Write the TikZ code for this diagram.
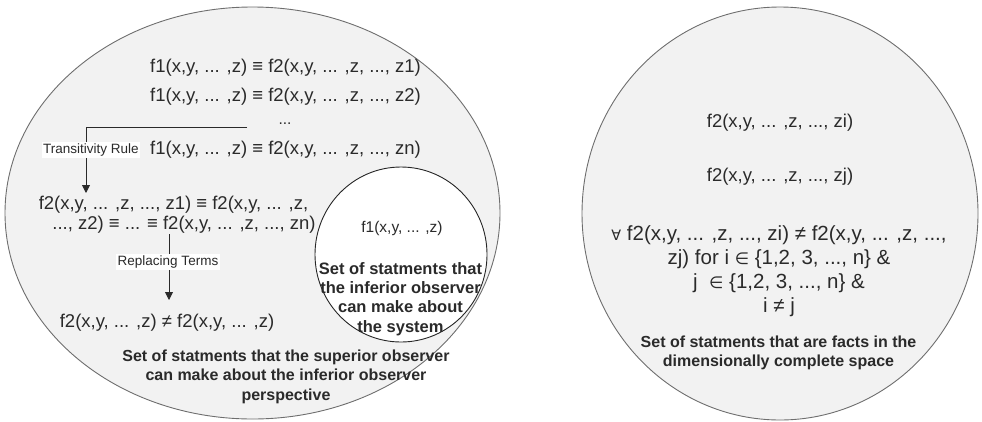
\documentclass[tikz,border=0pt]{standalone}
\usepackage{fontspec}
\setmainfont{Liberation Sans}
\newfontfamily\symf{DejaVu Sans}
\usetikzlibrary{shapes.geometric,arrows.meta}
\definecolor{setfill}{HTML}{F2F2F2}
\definecolor{setline}{HTML}{6E6E6E}
\definecolor{txt}{HTML}{2A2A2A}
\newcommand{\fa}{{\symf\scalebox{0.7}{∀}}}
\newcommand{\inn}{{\symf\scalebox{0.8}{∈}}}
\tikzset{
  setshape/.style={ellipse, draw=setline, fill=setfill, line width=0.9pt, inner sep=0pt},
  eqtext/.style={text=txt, inner sep=0pt, align=center, font=\fontsize{18.5}{21}\selectfont},
  smalltext/.style={text=txt, inner sep=0pt, align=center, font=\fontsize{15.5}{18}\selectfont},
  boldtext/.style={text=txt, inner sep=0pt, align=center, font=\fontsize{16}{19.5}\selectfont\bfseries},
  lbl/.style={text=txt, fill=white, inner sep=1.5pt, font=\fontsize{13.5}{16}\selectfont},
  conn/.style={draw=txt, line width=0.9pt, -{Triangle[length=8pt,width=8pt]}}
}
\begin{document}
\begin{tikzpicture}[x=1pt,y=-1pt]
\useasboundingbox (0,0) rectangle (982,421);
% sets
\node[setshape, minimum width=495pt, minimum height=412pt] (sup) at (252.5,213) {};
\node[setshape, minimum width=396pt, minimum height=413pt] (fact) at (780,213.5) {};
\node[ellipse, draw=black!85, fill=white, line width=0.9pt, minimum width=172pt, minimum height=175pt, inner sep=0pt] (inf) at (401,254.5) {};
% left set texts
\node[eqtext] (l1) at (285.5,68) {f1(x,y, ... ,z) ≡ f2(x,y, ... ,z, ..., z1)};
\node[eqtext] (l2) at (285.5,97) {f1(x,y, ... ,z) ≡ f2(x,y, ... ,z, ..., z2)};
\node[smalltext] (dots) at (285,124) {...};
\node[eqtext] (l3) at (285.5,150) {f1(x,y, ... ,z) ≡ f2(x,y, ... ,z, ..., zn)};
\node[eqtext] (c1) at (173.5,205) {f2(x,y, ... ,z, ..., z1) ≡ f2(x,y, ... ,z,};
\node[eqtext] (c2) at (184,224.5) {..., z2) ≡ ... ≡ f2(x,y, ... ,z, ..., zn)};
\node[eqtext] (neq) at (167,323) {f2(x,y, ... ,z) ≠ f2(x,y, ... ,z)};
\node[boldtext] (supt) at (286,376.5) {Set of statments that the superior observer\\can make about the inferior observer\\perspective};
% inner set texts
\node[smalltext] (f1) at (402,228) {f1(x,y, ... ,z)};
\node[boldtext, font=\fontsize{16.5}{19.3}\selectfont\bfseries] (inft) at (400.5,299) {Set of statments that\\the inferior observer\\can make about\\the system};
% right set texts
\node[eqtext] (zi) at (780,123) {f2(x,y, ... ,z, ..., zi)};
\node[eqtext] (zj) at (780,177) {f2(x,y, ... ,z, ..., zj)};
\node[eqtext, font=\fontsize{20.5}{23.8}\selectfont] (fa) at (779,271) {\fa{} f2(x,y, ... ,z, ..., zi) ≠ f2(x,y, ... ,z, ...,\\zj) for i \inn{} \{1,2, 3, ..., n\} \&\\j\ \ \inn{} \{1,2, 3, ..., n\} \&\\i ≠ j};
\node[boldtext] (factt) at (778.5,353) {Set of statments that are facts in the\\dimensionally complete space};
% connectors
\coordinate (t1) at (247,127);
\coordinate (t2) at (86,193);
\draw[conn] (t1) -| (t2);
\node[lbl] (trl) at (91,150) {Transitivity Rule};
\coordinate (r1) at (169,234);
\coordinate (r2) at (169,300);
\draw[conn] (r1) -- (r2);
\node[lbl] (rpl) at (168,262) {Replacing Terms};
\end{tikzpicture}
\end{document}
